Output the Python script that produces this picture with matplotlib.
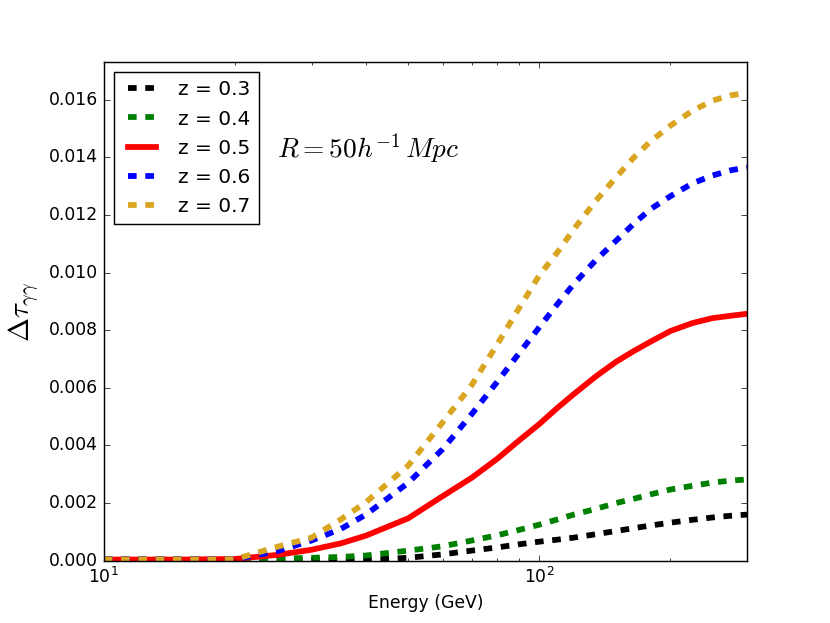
import matplotlib
matplotlib.use("Agg")
import matplotlib.pyplot as plt
from matplotlib.ticker import MultipleLocator

plt.style.use("classic")
plt.rcParams["lines.scale_dashes"] = False

energy = [10, 15, 20, 25, 30, 35, 40, 50, 60, 70, 80, 90, 100, 110, 120, 135, 150,
          165, 180, 200, 225, 250, 275, 300]

tau_z03 = [0.00004, 0.00004, 0.00004, 0.00003, 0.00002, 0.00002, 0.00003, 0.0001, 0.00022,
           0.00035, 0.00046, 0.00057, 0.00066, 0.00073, 0.0008, 0.00092, 0.00103,
           0.00113, 0.00122, 0.00132, 0.00142, 0.0015, 0.00156, 0.0016]
tau_z04 = [0.00004, 0.00004, 0.00004, 0.00007, 0.0001, 0.00013, 0.00018, 0.00035, 0.0005,
           0.0007, 0.00088, 0.00107, 0.00125, 0.00143, 0.0016, 0.0018, 0.002,
           0.00215, 0.0023, 0.00247, 0.0026, 0.00271, 0.00278, 0.00282]
tau_z05 = [0.00004, 0.00004, 0.00006, 0.0002, 0.00038, 0.0006, 0.00087, 0.00147, 0.00224,
           0.00288, 0.00353, 0.00418, 0.00474, 0.0053, 0.00578, 0.0064, 0.0069,
           0.00728, 0.0076, 0.00797, 0.00825, 0.00842, 0.0085, 0.00857]
tau_z06 = [0.00004, 0.00004, 0.00005, 0.00033, 0.0007, 0.0011, 0.0016, 0.0027, 0.00387,
           0.00509, 0.0062, 0.00721, 0.0081, 0.0089, 0.0096, 0.01044, 0.0111,
           0.0117, 0.0122, 0.01265, 0.0131, 0.01337, 0.01355, 0.01365]
tau_z07 = [0.00004, 0.00004, 0.00005, 0.00048, 0.0008, 0.00143, 0.00203, 0.0033, 0.0048,
           0.0061, 0.0075, 0.00878, 0.0099, 0.0107, 0.0115, 0.0125, 0.0133,
           0.014, 0.01455, 0.0151, 0.01562, 0.01597, 0.01615, 0.01624]

labels = ["z = 0.3", "z = 0.4", "z = 0.5", "z = 0.6", "z = 0.7"]
colors = ["k", "g", "r", "b", "goldenrod"]
series = [tau_z03, tau_z04, tau_z05, tau_z06, tau_z07]
dashed = [True, True, False, True, True]

fig = plt.figure(figsize=(8, 6.005), dpi=103.75)
fig.patch.set_facecolor("white")
ax = fig.add_subplot(111)

for vals, lab, col, d in zip(series, labels, colors, dashed):
    if d:
        ax.plot(energy, vals, color=col, lw=4, dashes=(6, 6), label=lab)
    else:
        ax.plot(energy, vals, color=col, lw=4, ls="-", label=lab)

ax.set_xscale("log")
ax.set_xlim(10, 300)
ax.set_ylim(0, 0.0173)
ax.yaxis.set_major_locator(MultipleLocator(0.002))
ax.set_xlabel("Energy (GeV)", fontsize=12)
ax.set_ylabel(r"$\Delta\tau_{\gamma\gamma}$", fontsize=20)
ax.text(0.27, 0.826, r"$R=50h^{-1}\,Mpc$", transform=ax.transAxes,
        fontsize=19, va="center", ha="left")
ax.legend(loc="upper left", fontsize=14)

fig.savefig("out.png", dpi=103.75, facecolor="white")
